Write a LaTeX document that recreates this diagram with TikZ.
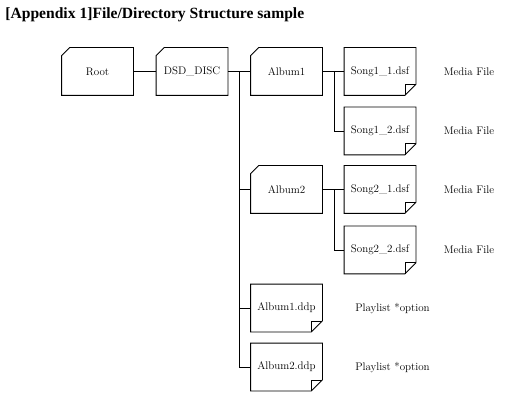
\documentclass[tikz,border=0pt]{standalone}
\usepackage{fontspec}
\newfontfamily\titlefont{Liberation Serif}
\usetikzlibrary{positioning}

\tikzset{
  box/.style={minimum width=71pt, minimum height=47pt, inner sep=0pt,
    font=\fontsize{11}{13}\selectfont},
  note/.style={font=\fontsize{11}{13}\selectfont, inner sep=0pt}
}

\begin{document}
\begin{tikzpicture}[x=1pt, y=-1pt, line width=0.8pt]
    \useasboundingbox (0,0) rectangle (512,401);
    % Title
    \node[anchor=base west, inner sep=0pt, font=\titlefont\bfseries\fontsize{15.6}{18}\selectfont]
        (title) at (5,19) {[Appendix 1]File/Directory Structure sample};

    % Folders
    \node[box] (Root) at (97.5,71.5) {Root};
    \node[box] (DSD) at (192,71.5) {DSD\_DISC};
    \node[box] (Album1) at (286.5,71.5) {Album1};
    \node[box] (Album2) at (286.5,189.5) {Album2};

    % Files
    \node[box] (Song11) at (380,71.5) {Song1\_1.dsf};
    \node[box] (Song12) at (380,131) {Song1\_2.dsf};
    \node[box] (Song21) at (380,189.5) {Song2\_1.dsf};
    \node[box] (Song22) at (380,250) {Song2\_2.dsf};
    \node[box] (Ddp1) at (286.5,308) {Album1.ddp};
    \node[box] (Ddp2) at (286.5,367) {Album2.ddp};

    % Notes
    \node[note] (media11) at (469,71.5) {Media File};
    \node[note] (media12) at (469,131) {Media File};
    \node[note] (media21) at (469,189.5) {Media File};
    \node[note] (media22) at (469,250) {Media File};
    \node[note] (list1) at (392.5,308) {Playlist *option};
    \node[note] (list2) at (392.5,367) {Playlist *option};

    % Outlines of folders and files
    \foreach \n in {Root,DSD,Album1,Album2}
        \draw ([yshift=-8pt]\n.north west) -- ([xshift=8pt]\n.north west) -- (\n.north east)
            -- (\n.south east) -- (\n.south west) -- cycle;
    \foreach \n in {Song11,Song12,Song21,Song22,Ddp1,Ddp2} {
        \draw (\n.north west) -- (\n.north east) -- ([yshift=11pt]\n.south east)
            -- ([xshift=-11pt]\n.south east) -- (\n.south west) -- cycle;
        \draw ([xshift=-11pt]\n.south east) -- ([xshift=-11pt,yshift=11pt]\n.south east)
            -- ([yshift=11pt]\n.south east);
    }

    % Tree lines
    \coordinate (trunk) at (239,0);
    \coordinate (branch1) at (334,0);
    \coordinate (branch2) at (334,0);
    \draw (Root) -- (DSD);
    \draw (DSD) -- (Album1);
    \draw (trunk |- DSD.east) |- (Album2.west);
    \draw (trunk |- DSD.east) |- (Ddp1.west);
    \draw (trunk |- DSD.east) |- (Ddp2.west);
    \draw (Album1) -- (Song11);
    \draw (branch1 |- Album1.east) |- (Song12.west);
    \draw (Album2) -- (Song21);
    \draw (branch2 |- Album2.east) |- (Song22.west);
\end{tikzpicture}
\end{document}
